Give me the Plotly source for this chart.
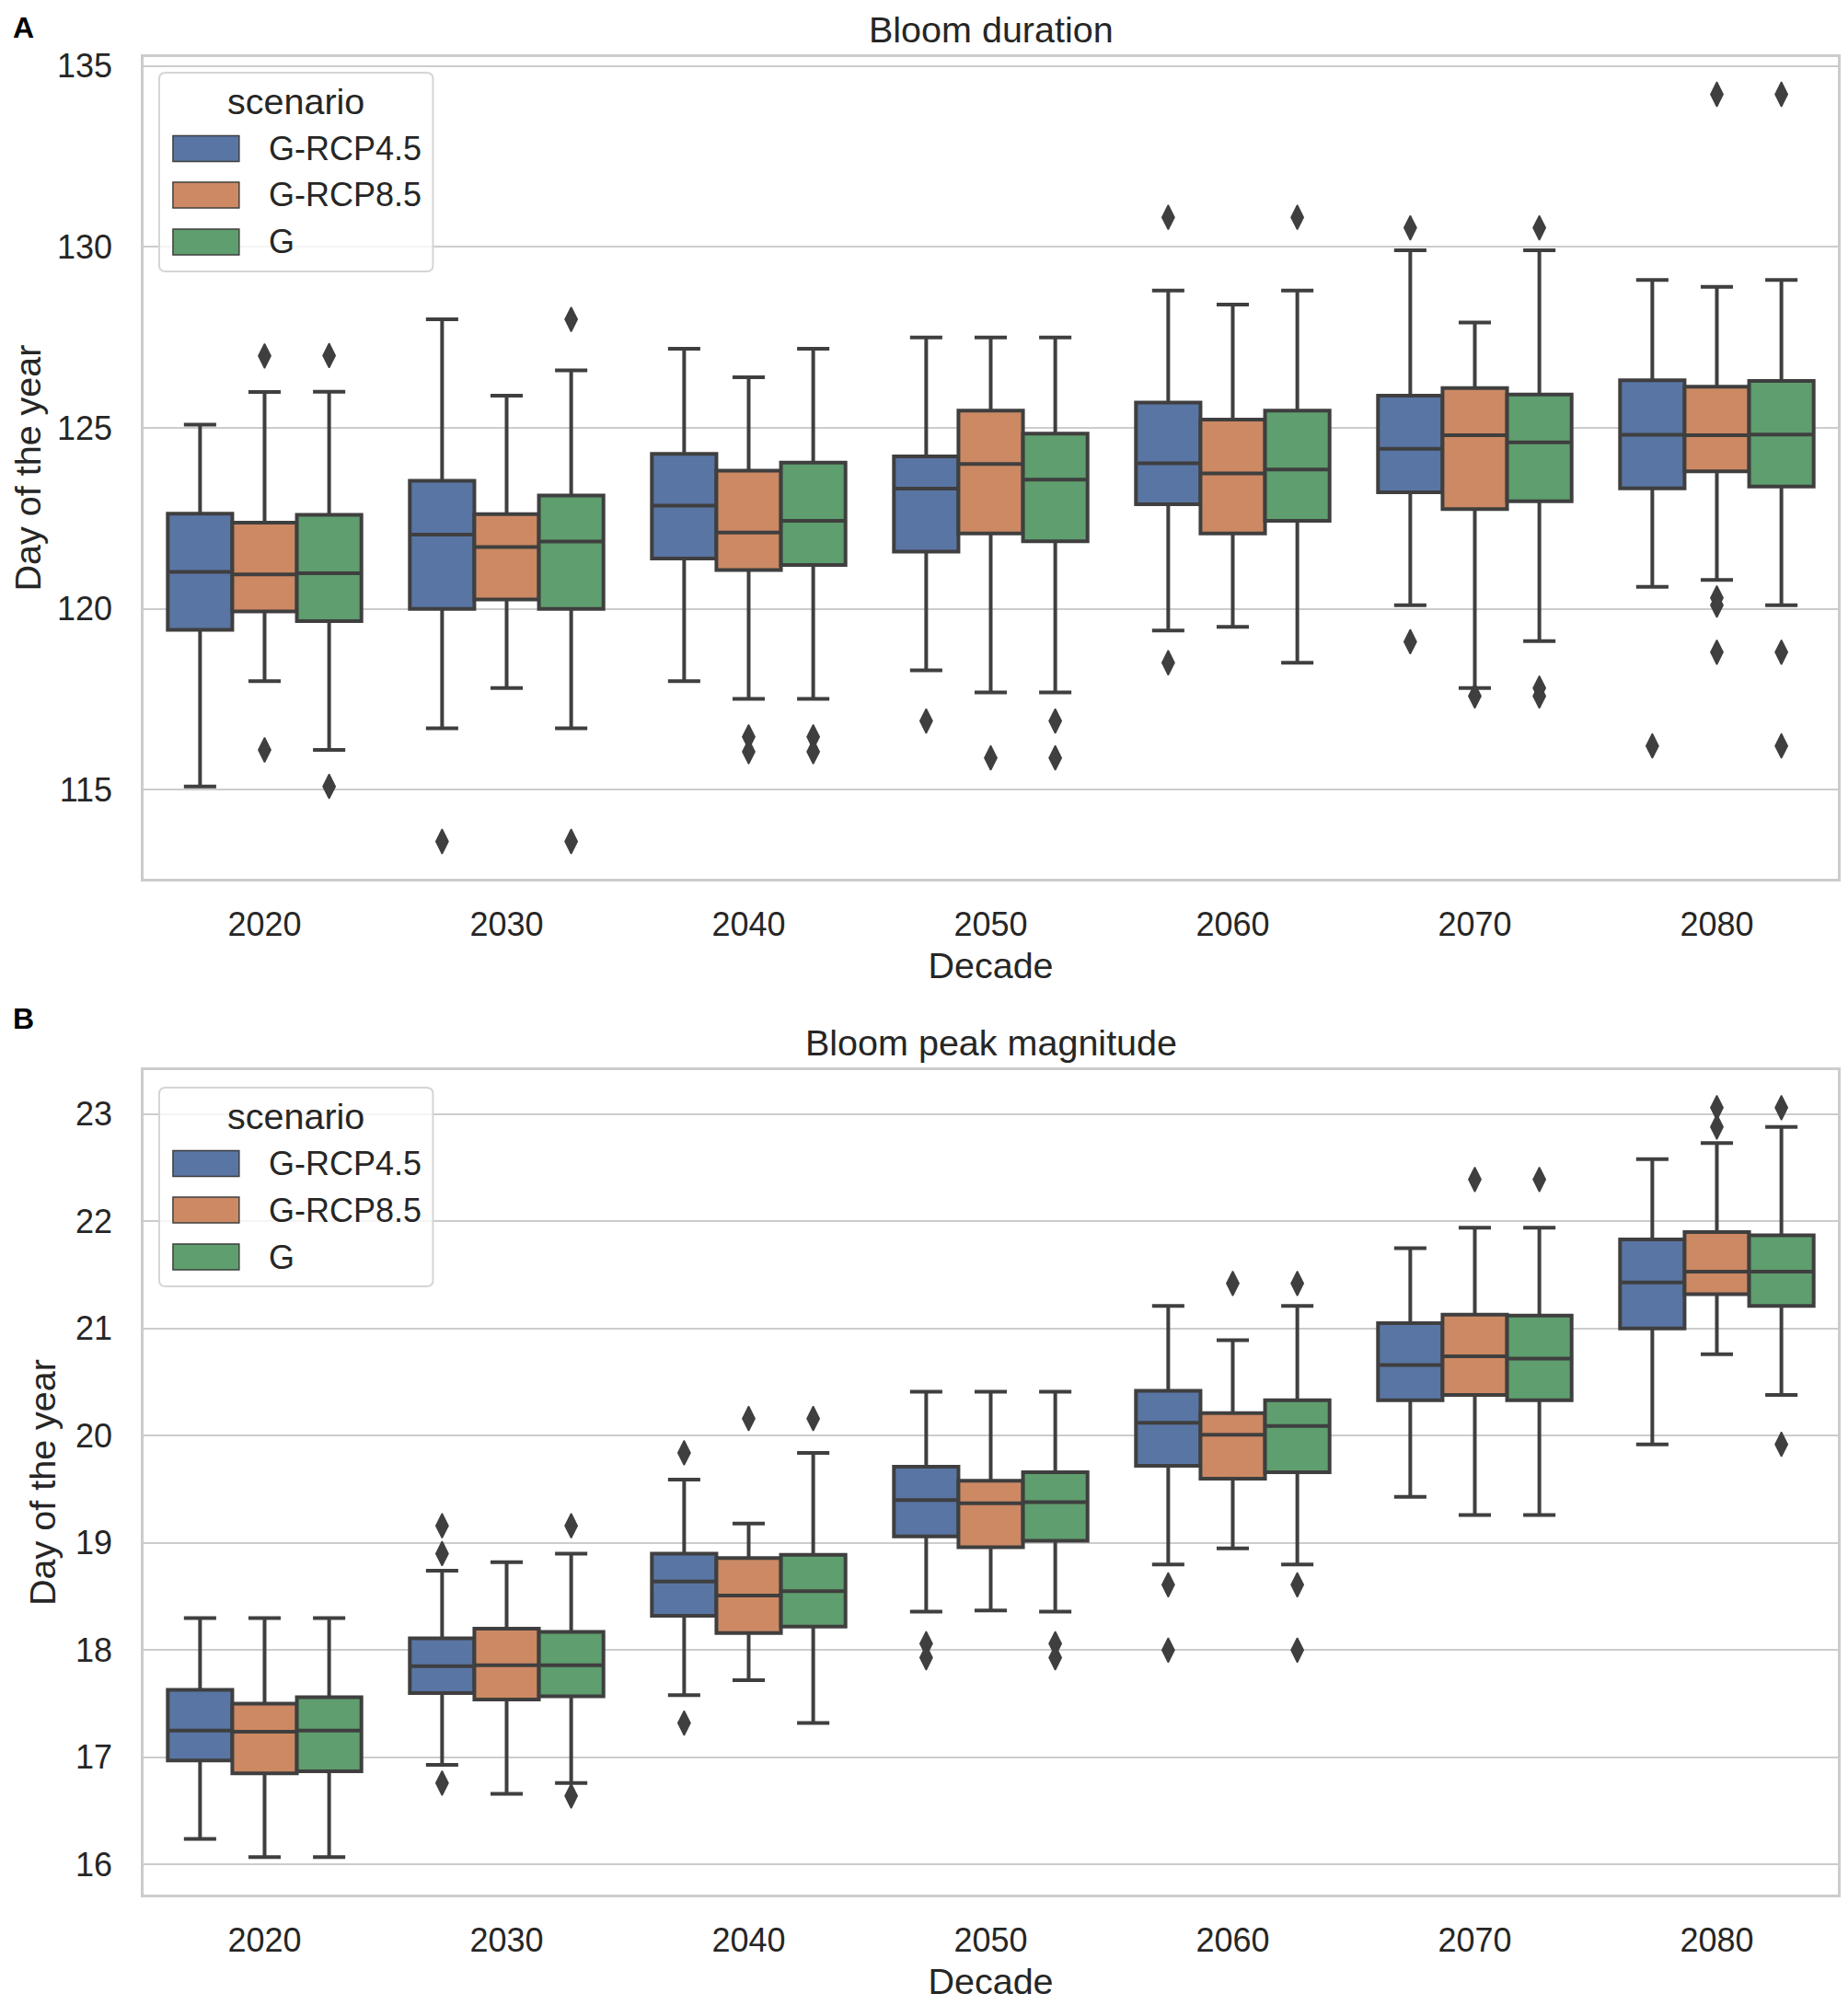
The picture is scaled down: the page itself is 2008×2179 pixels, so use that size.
import plotly.graph_objects as go

# ---------------- data ----------------
DECADES = [2020, 2030, 2040, 2050, 2060, 2070, 2080]
SCENARIOS = ["G-RCP4.5", "G-RCP8.5", "G"]
COLORS = ["#5975a4", "#cc8963", "#5f9e6e"]

# Panel A: Bloom duration (whisker low, q1, median, q3, whisker high per decade)
DUR_RCP45 = dict(
    lo=[115.09, 116.70, 118.00, 118.30, 119.40, 120.10, 120.61],
    q1=[119.42, 120.00, 121.39, 121.58, 122.89, 123.22, 123.33],
    med=[121.02, 122.05, 122.85, 123.32, 124.02, 124.42, 124.81],
    q3=[122.63, 123.54, 124.28, 124.21, 125.70, 125.89, 126.32],
    hi=[125.09, 128.00, 127.19, 127.50, 128.80, 129.91, 129.09],
)
DUR_RCP85 = dict(
    lo=[118.00, 117.81, 117.51, 117.69, 119.50, 117.81, 120.80],
    q1=[119.93, 120.26, 121.07, 122.08, 122.08, 122.76, 123.80],
    med=[120.95, 121.71, 122.11, 124.00, 123.74, 124.80, 124.80],
    q3=[122.38, 122.62, 123.82, 125.48, 125.23, 126.10, 126.14],
    hi=[125.99, 125.89, 126.40, 127.50, 128.41, 127.91, 128.90],
)
DUR_G = dict(
    lo=[116.10, 116.70, 117.51, 117.69, 118.51, 119.11, 120.10],
    q1=[119.66, 120.00, 121.21, 121.87, 122.43, 122.97, 123.38],
    med=[120.98, 121.86, 122.43, 123.57, 123.85, 124.60, 124.82],
    q3=[122.60, 123.13, 124.04, 124.84, 125.48, 125.92, 126.30],
    hi=[126.00, 126.59, 127.19, 127.50, 128.80, 129.91, 129.09],
)
DUR_OUT_RCP45 = [[], [113.57], [], [116.90], [130.82, 118.51], [130.53, 119.09], [116.21]]
DUR_OUT_RCP85 = [[126.99, 116.10], [], [116.46, 116.05], [115.88], [], [117.59],
                 [134.22, 120.30, 120.10, 118.80]]
DUR_OUT_G = [[127.00, 115.09], [128.00, 113.57], [116.46, 116.05], [116.90, 115.88],
             [130.82], [130.53, 117.81, 117.59], [134.22, 118.80, 116.21]]

# Panel B: Bloom peak magnitude
MAG_RCP45 = dict(
    lo=[16.24, 16.93, 17.58, 18.36, 18.80, 19.43, 19.92],
    q1=[16.97, 17.60, 18.32, 19.06, 19.72, 20.33, 21.00],
    med=[17.25, 17.85, 18.64, 19.40, 20.12, 20.66, 21.43],
    q3=[17.63, 18.11, 18.90, 19.71, 20.42, 21.05, 21.83],
    hi=[18.30, 18.74, 19.59, 20.41, 21.21, 21.75, 22.58],
)
MAG_RCP85 = dict(
    lo=[16.07, 16.66, 17.72, 18.37, 18.95, 19.26, 20.76],
    q1=[16.85, 17.54, 18.16, 18.96, 19.60, 20.38, 21.32],
    med=[17.24, 17.86, 18.51, 19.37, 20.01, 20.74, 21.53],
    q3=[17.50, 18.20, 18.86, 19.58, 20.21, 21.13, 21.90],
    hi=[18.30, 18.82, 19.18, 20.41, 20.89, 21.94, 22.73],
)
MAG_G = dict(
    lo=[16.07, 16.76, 17.32, 18.36, 18.80, 19.26, 20.38],
    q1=[16.87, 17.57, 18.22, 19.02, 19.66, 20.33, 21.21],
    med=[17.25, 17.86, 18.55, 19.38, 20.09, 20.72, 21.53],
    q3=[17.56, 18.17, 18.89, 19.66, 20.33, 21.12, 21.87],
    hi=[18.30, 18.90, 19.84, 20.41, 21.21, 21.94, 22.88],
)
MAG_OUT_RCP45 = [[], [19.16, 18.90, 16.76], [19.84, 17.32], [18.06, 17.93],
                 [18.61, 18.00], [], []]
MAG_OUT_RCP85 = [[], [], [20.16], [], [21.42], [22.39], [23.06, 22.88]]
MAG_OUT_G = [[], [19.16, 16.64], [20.16], [18.06, 17.93], [21.42, 18.61, 18.00],
             [22.39], [23.06, 19.92]]

DUR_TICKS = [115, 120, 125, 130, 135]
MAG_TICKS = [16, 17, 18, 19, 20, 21, 22, 23]

# ---------------- layout geometry (page pixels) ----------------
OFF = 8                      # default page body margin
W, H = 2008 - OFF, 2179 - OFF
PLOT_L, PLOT_R, PLOT_T, PLOT_B = 156, 2000, 62, 2059
ML, MT = PLOT_L - OFF, PLOT_T - OFF
MR = W - (PLOT_R - OFF)
MB = H - (PLOT_B - OFF)
PLOT_W = PLOT_R - PLOT_L
PLOT_H = PLOT_B - PLOT_T


def px(pix):  # page column -> paper x
    return (pix - PLOT_L) / PLOT_W


def py(pix):  # page row -> paper y
    return (PLOT_B - pix) / PLOT_H


EDGE = "#3f3f3f"
GRID = "#cccccc"
TEXT = "#262626"
FONT = "Liberation Sans, Arial, sans-serif"
TICK_SIZE = 36
LABEL_SIZE = 39.5
GROUP_W = 10 * 0.8
BOX_W = GROUP_W / len(SCENARIOS)

fig = go.Figure()

panels = [
    ("x", "y", [DUR_RCP45, DUR_RCP85, DUR_G], [DUR_OUT_RCP45, DUR_OUT_RCP85, DUR_OUT_G]),
    ("x2", "y2", [MAG_RCP45, MAG_RCP85, MAG_G], [MAG_OUT_RCP45, MAG_OUT_RCP85, MAG_OUT_G]),
]

for xa, ya, stats_list, outs_list in panels:
    for k, (scen, col, st, outs) in enumerate(zip(SCENARIOS, COLORS, stats_list, outs_list)):
        off = (k - (len(SCENARIOS) - 1) / 2) * BOX_W
        xs = [d + off for d in DECADES]
        fig.add_trace(go.Box(
            x=xs, q1=st["q1"], median=st["med"], q3=st["q3"],
            lowerfence=st["lo"], upperfence=st["hi"],
            width=BOX_W, whiskerwidth=0.5, boxpoints=False,
            fillcolor=col, line=dict(color=EDGE, width=4),
            name=scen, showlegend=False,
            xaxis=xa, yaxis=ya, hoverinfo="y",
        ))
        ox, oy = [], []
        for d, vals in zip(DECADES, outs):
            for v in vals:
                ox.append(d + off)
                oy.append(v)
        fig.add_trace(go.Scatter(
            x=ox, y=oy, mode="markers", showlegend=False, name=scen + " outliers",
            marker=dict(symbol="diamond-tall", size=19, color=EDGE,
                        line=dict(color=EDGE, width=1.5)),
            xaxis=xa, yaxis=ya, hoverinfo="y",
        ))

axis_common = dict(
    showline=True, mirror=True, linecolor=GRID, linewidth=2.5,
    ticks="outside", tickcolor="rgba(0,0,0,0)",
    tickfont=dict(size=TICK_SIZE, color=TEXT, family=FONT),
    zeroline=False,
)
xcommon = dict(axis_common, tickvals=DECADES, ticktext=[str(d) for d in DECADES],
               range=[2015, 2085], showgrid=False, ticklen=16,
               title=dict(text="Decade", font=dict(size=LABEL_SIZE, color=TEXT, family=FONT),
                          standoff=12))
ycommon = dict(axis_common, showgrid=True, gridcolor=GRID, gridwidth=2, ticklen=24,
               title=dict(text="Day of the year", font=dict(size=LABEL_SIZE, color=TEXT, family=FONT),
                          standoff=10))

# ---------------- legends (drawn in paper space) ----------------
shapes = []
annotations = []
RX, RY = 7 / PLOT_W, 7 / PLOT_H


def rounded_rect(x0, y0, x1, y1):
    # y0 bottom, y1 top in paper units
    return (f"M{x0+RX},{y0} L{x1-RX},{y0} Q{x1},{y0} {x1},{y0+RY} "
            f"L{x1},{y1-RY} Q{x1},{y1} {x1-RX},{y1} L{x0+RX},{y1} "
            f"Q{x0},{y1} {x0},{y1-RY} L{x0},{y0+RY} Q{x0},{y0} {x0+RX},{y0} Z")


for dy in (0, 1103):
    shapes.append(dict(type="path", xref="paper", yref="paper", layer="above",
                       path=rounded_rect(px(173), py(295 + dy), px(471), py(79 + dy)),
                       fillcolor="rgba(255,255,255,0.8)", line=dict(color="#d5d5d5", width=2)))
    annotations.append(dict(text="scenario", x=px(322), y=py(110 + dy), xref="paper", yref="paper",
                            showarrow=False, xanchor="center", yanchor="middle",
                            font=dict(size=LABEL_SIZE, color=TEXT, family=FONT)))
    for row, scen, col in zip((161.5, 212, 263), SCENARIOS, COLORS):
        shapes.append(dict(type="rect", xref="paper", yref="paper", layer="above",
                           x0=px(188), x1=px(260), y0=py(row + dy + 14), y1=py(row + dy - 14),
                           fillcolor=col, line=dict(color=EDGE, width=1.5)))
        annotations.append(dict(text=scen, x=px(290), y=py(row + dy), xref="paper", yref="paper",
                                showarrow=False, xanchor="left", yanchor="middle",
                                font=dict(size=TICK_SIZE, color=TEXT, family=FONT)))

annotations += [
    dict(text="Bloom duration", x=0.5, y=py(32), xref="paper", yref="paper",
         showarrow=False, xanchor="center", yanchor="middle", borderpad=0,
         font=dict(size=LABEL_SIZE, color=TEXT, family=FONT)),
    dict(text="Bloom peak magnitude", x=0.5, y=py(1133), xref="paper", yref="paper",
         showarrow=False, xanchor="center", yanchor="middle", borderpad=0,
         font=dict(size=LABEL_SIZE, color=TEXT, family=FONT)),
    dict(text="<b>A</b>", x=px(25), y=py(30), xref="paper", yref="paper",
         showarrow=False, xanchor="center", yanchor="middle", borderpad=0,
         font=dict(size=32, color="black", family=FONT)),
    dict(text="<b>B</b>", x=px(25), y=py(1107), xref="paper", yref="paper",
         showarrow=False, xanchor="center", yanchor="middle", borderpad=0,
         font=dict(size=32, color="black", family=FONT)),
]

fig.update_layout(
    width=W, height=H,
    margin=dict(l=ML, r=MR, t=MT, b=MB),
    paper_bgcolor="white", plot_bgcolor="white",
    font=dict(family=FONT, color=TEXT),
    boxmode="overlay", showlegend=False,
    xaxis=dict(xcommon, domain=[0, 1], anchor="y"),
    yaxis=dict(ycommon, domain=[py(955), 1.0], anchor="x", range=[112.54, 135.25],
               tickvals=DUR_TICKS),
    xaxis2=dict(xcommon, domain=[0, 1], anchor="y2"),
    yaxis2=dict(ycommon, domain=[0.0, py(1163)], anchor="x2", range=[15.72, 23.41],
                tickvals=MAG_TICKS),
    shapes=shapes,
    annotations=annotations,
)

fig.write_html("out.html")
